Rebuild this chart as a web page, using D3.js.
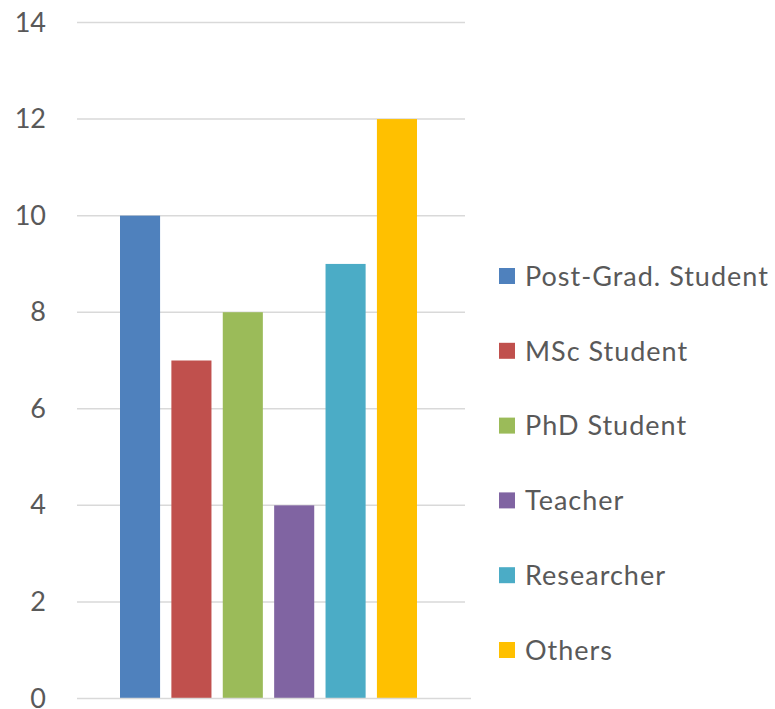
<!DOCTYPE html>
<html>
<head>
<meta charset="utf-8">
<script src="https://cdn.jsdelivr.net/npm/d3@7"></script>
<style>
  body { margin: 0; background: #fff; }
  text { font-family: Lato, "Open Sans", sans-serif; fill: #595959; }
</style>
</head>
<body>
<div id="chart"></div>
<script>
// data
const seriesNames = ['Post-Grad. Student', 'MSc Student', 'PhD Student', 'Teacher', 'Researcher', 'Others'];
const seriesValues = [10, 7, 8, 4, 9, 12];
const seriesColors = ['#4F81BD', '#C0504D', '#9BBB59', '#8064A2', '#4BACC6', '#FFC000'];
const yTicks = [0, 2, 4, 6, 8, 10, 12, 14];

const width = 775;
const height = 709;

let svg = d3.select('#chart')
  .append('svg')
  .attr('width', width)
  .attr('height', height);

// scales
let yScale = d3.scaleLinear()
  .domain([0, 14])
  .range([698.5, 22.5]);

let xScale = d3.scaleBand()
  .domain(seriesNames)
  .range([120, 417])
  .paddingInner(0.22)
  .paddingOuter(0);

// gridlines
svg.append('g')
  .selectAll('line')
  .data(yTicks.filter(t => t > 0))
  .enter()
  .append('line')
  .attr('x1', 77)
  .attr('x2', 465)
  .attr('y1', d => yScale(d))
  .attr('y2', d => yScale(d))
  .attr('stroke', '#D9D9D9')
  .attr('stroke-width', 1.5);

// y axis labels
let yAxis = d3.axisLeft(yScale)
  .tickValues(yTicks)
  .tickSize(0)
  .tickPadding(0);

let yAxisG = svg.append('g')
  .attr('transform', 'translate(46, 0)')
  .call(yAxis);
yAxisG.select('.domain').remove();
yAxisG.selectAll('text')
  .attr('font-size', 27)
  .attr('font-family', null)
  .attr('fill', '#595959');

// bars
svg.append('g')
  .selectAll('rect')
  .data(seriesValues)
  .enter()
  .append('rect')
  .attr('x', (d, i) => xScale(seriesNames[i]))
  .attr('y', d => yScale(d))
  .attr('width', xScale.bandwidth())
  .attr('height', d => yScale(0) - yScale(d))
  .attr('fill', (d, i) => seriesColors[i]);

// baseline
svg.append('line')
  .attr('x1', 77)
  .attr('x2', 471)
  .attr('y1', yScale(0))
  .attr('y2', yScale(0))
  .attr('stroke', '#D9D9D9')
  .attr('stroke-width', 1.5);

// legend
let legendScale = d3.scalePoint()
  .domain(seriesNames)
  .range([276, 650]);

let legend = svg.append('g')
  .selectAll('g')
  .data(seriesNames)
  .enter()
  .append('g')
  .attr('transform', d => `translate(499, ${legendScale(d)})`);

legend.append('rect')
  .attr('x', 0)
  .attr('y', -8)
  .attr('width', 16)
  .attr('height', 16)
  .attr('fill', (d, i) => seriesColors[i]);

legend.append('text')
  .attr('x', 26)
  .attr('y', 0)
  .attr('dy', '0.36em')
  .attr('font-size', 27)
  .attr('letter-spacing', 1)
  .text(d => d);
</script>
</body>
</html>
